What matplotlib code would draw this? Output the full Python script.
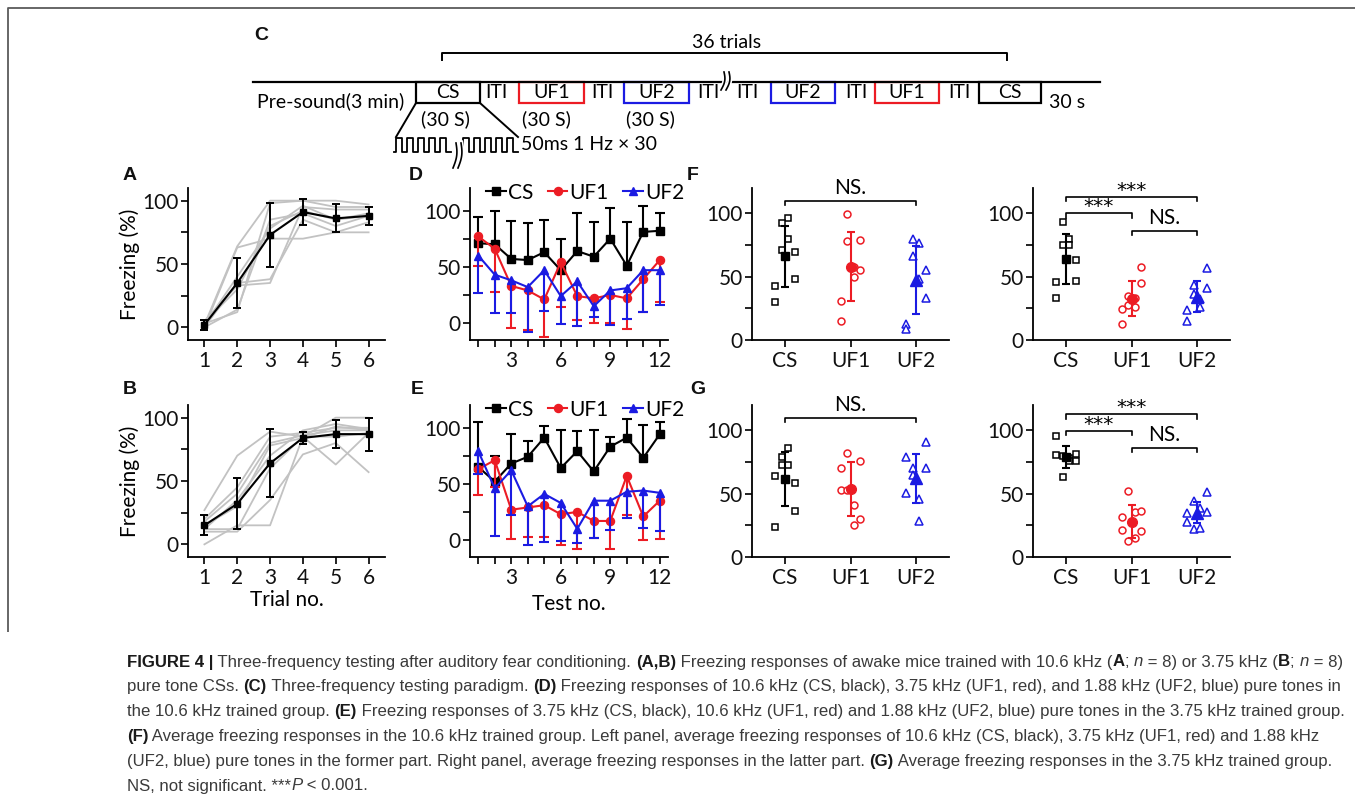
import numpy as np
import matplotlib
matplotlib.use('Agg')
import matplotlib.pyplot as plt
from matplotlib.patches import Rectangle

W, H = 1355, 806
plt.rcParams['font.family'] = ['Lato', 'DejaVu Sans']

# ---------------- data ----------------
trials = [1, 2, 3, 4, 5, 6]
A_mean = [2, 35, 73, 91, 86, 88]
A_err = [4, 20, 25, 10, 11, 7]
A_mice = [[2, 64, 100, 100, 100, 97],
          [0, 63, 70, 70, 75, 75],
          [5, 33, 35, 95, 93, 93],
          [0, 35, 38, 85, 75, 83],
          [3, 12, 98, 100, 95, 95],
          [0, 14, 85, 90, 80, 88],
          [4, 30, 80, 92, 85, 90],
          [2, 40, 78, 96, 85, 88]]
B_mean = [15, 32, 64, 84, 87, 87]
B_err = [8, 20, 27, 5, 11, 13]
B_mice = [[27, 70, 89, 85, 100, 100],
          [20, 45, 85, 88, 92, 92],
          [18, 40, 80, 86, 90, 90],
          [15, 30, 78, 84, 93, 90],
          [12, 12, 60, 85, 63, 88],
          [10, 10, 35, 71, 80, 57],
          [0, 15, 15, 85, 85, 88],
          [12, 35, 70, 90, 95, 91]]

tests = list(range(1, 13))
D_CS = [71, 70, 57, 56, 63, 47, 64, 59, 75, 51, 81, 82]
D_CS_err = [23, 30, 34, 33, 29, 28, 34, 31, 27, 39, 23, 16]
D_UF1 = [77, 66, 33, 29, 21, 54, 24, 22, 25, 22, 39, 56]
D_UF1_err = [26, 38, 37, 35, 33, 40, 21, 22, 25, 27, 29, 37]
D_UF2 = [60, 43, 38, 32, 47, 24, 37, 15, 29, 31, 47, 47]
D_UF2_err = [33, 34, 29, 40, 36, 25, 40, 10, 31, 27, 37, 31]

E_CS = [65, 52, 68, 74, 91, 64, 79, 61, 83, 91, 73, 94]
E_CS_err = [40, 23, 26, 14, 10, 34, 18, 37, 9, 17, 29, 11]
E_UF1 = [63, 71, 27, 29, 31, 23, 25, 17, 17, 57, 21, 35]
E_UF1_err = [23, 24, 26, 26, 28, 27, 33, 15, 25, 35, 21, 34]
E_UF2 = [79, 46, 62, 30, 41, 33, 10, 35, 35, 43, 44, 42]
E_UF2_err = [20, 42, 40, 34, 43, 34, 13, 33, 26, 23, 33, 34]

groups = ['CS', 'UF1', 'UF2']
# F left (former part, 10.6 kHz trained)
FL_CS = [96.6, 92, 79.4, 71, 69.7, 48, 42.3, 29.8]
FL_UF1 = [99.7, 77.8, 78.9, 58, 55.4, 50, 30.8, 14.9]
FL_UF2 = [79.4, 76.5, 66.6, 55.4, 48.3, 33.4, 13, 8.6]
FL_mean = [66, 58, 47.5]
FL_err = [24, 27.5, 27]
# F right (latter part)
FR_CS = [92.9, 79.4, 75, 75, 63.3, 46, 46.7, 33.5]
FR_UF1 = [57.5, 45, 35, 33, 26.4, 24.8, 12.4, 28]
FR_UF2 = [56.7, 43.3, 41.4, 36, 32.7, 26, 24, 15]
FR_mean = [64, 32.7, 34.3]
FR_err = [20, 13.5, 12.5]
# G left
GL_CS = [86.4, 79, 73, 73, 63.9, 58.6, 36.4, 23.3]
GL_UF1 = [82.5, 70.4, 75.7, 52.6, 52.6, 41, 29.8, 25]
GL_UF2 = [90.8, 79, 70, 70, 64.7, 50.3, 45.5, 28.5]
GL_mean = [61.5, 53.7, 62]
GL_err = [21.6, 21, 19.5]
# G right
GR_CS = [95.8, 80.8, 79.5, 81, 78, 75.5, 76, 63.4]
GR_UF1 = [52, 35.5, 36, 31.6, 21, 20.5, 15, 12.6]
GR_UF2 = [51.3, 44, 39, 35.5, 34.7, 28, 21.8, 23]
GR_mean = [78.7, 28, 35]
GR_err = [8.8, 13, 8.5]

# significance annotations (group i, group j, level, label)
sig_left = [(1, 3, 110, 'NS.')]
sig_right_F = [(1, 3, 113, '***'), (1, 2, 100, '***'), (2, 3, 86.3, 'NS.')]
sig_right_G = [(1, 3, 112.6, '***'), (1, 2, 99.5, '***'), (2, 3, 86.3, 'NS.')]

paradigm_seq = ['CS', 'UF1', 'UF2', 'UF2', 'UF1', 'CS']

# ---------------- layout / style constants ----------------
RED = '#ec1c24'
BLUE = '#1b1be2'
GRAY = '#c2c2c2'
FS = 15

JIT = {
    'FL': [[.05, -.05, .05, -.05, .15, .15, -.15, -.15],
           [-.05, -.05, .15, .05, .15, .05, -.15, -.15],
           [-.05, .05, -.05, .15, .05, .15, -.15, -.15]],
    'FR': [[-.05, .05, -.05, .05, .15, -.15, .15, -.15],
           [.15, .15, -.05, .05, .05, -.15, -.15, -.05],
           [.15, -.05, .15, -.05, .05, .05, -.15, -.15]],
    'GL': [[.05, -.05, -.05, .05, -.15, .15, .15, -.15],
           [-.05, -.15, .15, -.15, -.05, .05, .15, .05],
           [.15, -.15, .15, -.05, -.05, -.15, .05, .05]],
    'GR': [[-.15, -.15, -.05, .15, .05, .05, .15, -.05],
           [-.05, .05, .15, -.15, -.15, .15, .05, -.05],
           [.15, -.05, .05, .15, -.15, -.15, -.05, .05]],
}

fig = plt.figure(figsize=(W / 100, H / 100), dpi=100)
bg = fig.add_axes([0, 0, 1, 1])
bg.set_xlim(0, W)
bg.set_ylim(H, 0)
bg.axis('off')


def px_axes(l, t, r, b):
    return fig.add_axes([l / W, 1 - b / H, (r - l) / W, (b - t) / H])


def style(ax):
    for s in ['top', 'right']:
        ax.spines[s].set_visible(False)
    for s in ['left', 'bottom']:
        ax.spines[s].set_linewidth(1.3)
    ax.tick_params(which='both', direction='out', width=1.3, length=5,
                   labelsize=FS, colors='#111111')
    ax.tick_params(axis='y', pad=1.5)
    ax.tick_params(axis='x', pad=3)
    ax.set_facecolor('none')


# ---------------- frame ----------------
bg.plot([8, 8, W], [632, 8, 8], color='#5a5a5a', lw=1.3, solid_capstyle='butt')

# ---------------- panel labels ----------------
for lab, (x, y) in {'A': (130, 175), 'B': (130, 390), 'C': (261, 35), 'D': (416, 176),
                    'E': (417, 390), 'F': (693, 175), 'G': (698, 390)}.items():
    bg.text(x, y, lab, fontsize=14, fontweight='bold', family='Liberation Sans',
            ha='center', va='center', color='#111111')

# ---------------- panel C (paradigm schematic) ----------------
tl_y, box_b = 82, 103
box_x = [(416, 480), (519, 584), (624, 689), (771, 835), (875, 939), (979, 1041)]
box_col = {'CS': 'k', 'UF1': RED, 'UF2': BLUE}
for (x0, x1), name in zip(box_x, paradigm_seq):
    bg.add_patch(Rectangle((x0, tl_y), x1 - x0, box_b - tl_y, fill=False,
                           edgecolor=box_col[name], lw=1.6))
    bg.text((x0 + x1) / 2, 93, name, fontsize=14, ha='center', va='center')
bg.plot([253, 1100], [tl_y, tl_y], color='k', lw=1.6)
for x in [496, 602, 708, 747, 856, 959]:
    bg.text(x, 93, 'ITI', fontsize=14, ha='center', va='center')
bg.text(257, 101, 'Pre-sound(3 min)', fontsize=14, ha='left', va='center')
bg.text(1049, 102, '30 s', fontsize=14, ha='left', va='center')
for x in [445, 546, 650]:
    bg.text(x, 119, '(30 S)', fontsize=14, ha='center', va='center')
# 36 trials bracket
bg.plot([442, 442, 1007, 1007], [60, 53, 53, 60], color='k', lw=1.4)
bg.text(727, 42, '36 trials', fontsize=14, ha='center', va='center')
# zoom lines from the CS box
bg.plot([416, 396], [box_b, 137], color='k', lw=1.4)
bg.plot([480, 518], [box_b, 137], color='k', lw=1.4)


def square_wave(x0, x1, n, lo, hi):
    p = (x1 - x0) / n
    xs, ys = [x0 - 2], [lo]
    for k in range(n):
        a = x0 + k * p
        xs += [a, a, a + p * 0.5, a + p * 0.5]
        ys += [lo, hi, hi, lo]
    xs.append(x1)
    ys.append(lo)
    return xs, ys


for (a, b) in [(396, 451), (463, 518)]:
    xs, ys = square_wave(a, b, 5, 152, 138)
    bg.plot(xs, ys, color='k', lw=1.3)
bg.text(521, 145, '50ms 1 Hz \u00d7 30', fontsize=14, ha='left', va='center')


def break_mark(xc, y0, y1):
    t = np.linspace(0, 1, 30)
    for col, lw in (('white', 3.5), ('k', 1.2)):
        for dx in (-2.5, 2.5):
            xx = xc + dx + 2.2 * np.sin(np.pi * t) - 3 * (t - 0.5)
            yy = y0 + (y1 - y0) * t
            bg.plot(xx, yy, color=col, lw=lw)


break_mark(725, 72, 90)
break_mark(457, 143, 168)

# ---------------- panels A, B ----------------
COLS = [(188, 385), (470, 668), (752, 949), (1033, 1230)]
ROWS = [(188, 340), (405, 557)]


def trial_panel(ax, mice, mean, err, xlabel=None):
    style(ax)
    for m in mice:
        ax.plot(trials, m, color=GRAY, lw=1.3, zorder=1)
    ax.errorbar(trials, mean, yerr=err, color='k', marker='s', ms=5, lw=1.5,
                elinewidth=1.4, capsize=2.9, capthick=1.4, zorder=3)
    ax.set_xlim(0.5, 6.5)
    ax.set_ylim(-10, 110)
    ax.set_xticks(trials)
    ax.set_yticks([0, 50, 100])
    ax.set_yticks([25, 75], minor=True)
    ax.set_ylabel('Freezing (%)', fontsize=FS, labelpad=2)
    if xlabel:
        ax.set_xlabel(xlabel, fontsize=FS, labelpad=1)


axA = px_axes(COLS[0][0], ROWS[0][0], COLS[0][1], ROWS[0][1])
trial_panel(axA, A_mice, A_mean, A_err)
axB = px_axes(COLS[0][0], ROWS[1][0], COLS[0][1], ROWS[1][1])
trial_panel(axB, B_mice, B_mean, B_err, 'Trial no.')

# ---------------- panels D, E ----------------


def one_sided(ax, x, y, err, sign, color, z):
    y = np.asarray(y, float)
    end = y + sign * np.asarray(err, float)
    ax.vlines(x, y, end, color=color, lw=1.5, zorder=z)
    ax.plot(x, end, ls='none', marker='_', ms=7.7, mew=1.5, color=color, zorder=z)


def test_panel(ax, cs, cs_e, u1, u1_e, u2, u2_e, xlabel=None):
    style(ax)
    one_sided(ax, tests, cs, cs_e, +1, 'k', 2)
    ax.plot(tests, cs, color='k', marker='s', ms=5.3, lw=1.5, label='CS', zorder=2)
    one_sided(ax, tests, u1, u1_e, -1, RED, 3)
    ax.plot(tests, u1, color=RED, marker='o', ms=5.8, lw=1.5, label='UF1', zorder=3)
    one_sided(ax, tests, u2, u2_e, -1, BLUE, 4)
    ax.plot(tests, u2, color=BLUE, marker='^', ms=6.3, lw=1.5, label='UF2', zorder=4)
    ax.set_xlim(0.5, 12.5)
    ax.set_ylim(-15, 120)
    ax.set_xticks([3, 6, 9, 12])
    ax.set_xticks(tests, minor=True)
    ax.set_yticks([0, 50, 100])
    ax.set_yticks([25, 75], minor=True)
    ax.legend(ncol=3, loc='upper left', bbox_to_anchor=(0.08, 1.035), frameon=False,
              fontsize=FS, handlelength=0.95, handletextpad=0.1, columnspacing=0.7,
              borderaxespad=0, borderpad=0, numpoints=1)
    if xlabel:
        ax.set_xlabel(xlabel, fontsize=FS, labelpad=4)


axD = px_axes(COLS[1][0], ROWS[0][0], COLS[1][1], ROWS[0][1])
test_panel(axD, D_CS, D_CS_err, D_UF1, D_UF1_err, D_UF2, D_UF2_err)
axE = px_axes(COLS[1][0], ROWS[1][0], COLS[1][1], ROWS[1][1])
test_panel(axE, E_CS, E_CS_err, E_UF1, E_UF1_err, E_UF2, E_UF2_err, 'Test no.')

# ---------------- panels F, G ----------------
MK = [('s', 'k', 4.6, 6.2), ('o', RED, 5.0, 7.0), ('^', BLUE, 6.0, 8.0)]


def dot_panel(ax, data, means, errs, jit, sigs):
    style(ax)
    for i, (pts, m, e, (mk, c, ms_o, ms_f)) in enumerate(zip(data, means, errs, MK)):
        x = i + 1 + np.asarray(jit[i])
        ax.plot(x, pts, ls='none', marker=mk, ms=ms_o, mfc='white', mec=c, mew=1.1, zorder=2)
        ax.errorbar([i + 1], [m], yerr=[e], color=c, marker=mk, ms=ms_f, elinewidth=1.5,
                    capsize=2.7, capthick=1.5, zorder=3)
    ax.set_xlim(0.5, 3.5)
    ax.set_ylim(0, 120)
    ax.set_xticks([1, 2, 3])
    ax.set_xticklabels(groups)
    ax.set_yticks([0, 50, 100])
    ax.set_yticks([25, 75], minor=True)
    for (g1, g2, lvl, txt) in sigs:
        ax.plot([g1, g1, g2, g2], [lvl - 3.5, lvl, lvl, lvl - 3.5], color='k', lw=1.2,
                clip_on=False)
        if txt == 'NS.':
            ax.text((g1 + g2) / 2, lvl + 5, txt, fontsize=FS, ha='center', va='baseline',
                    clip_on=False)
        else:
            ax.text((g1 + g2) / 2, lvl + 0.8, txt, fontsize=14.5, ha='center', va='baseline',
                    family='DejaVu Sans', clip_on=False)


axFL = px_axes(COLS[2][0], ROWS[0][0], COLS[2][1], ROWS[0][1])
dot_panel(axFL, [FL_CS, FL_UF1, FL_UF2], FL_mean, FL_err, JIT['FL'], sig_left)
axFR = px_axes(COLS[3][0], ROWS[0][0], COLS[3][1], ROWS[0][1])
dot_panel(axFR, [FR_CS, FR_UF1, FR_UF2], FR_mean, FR_err, JIT['FR'], sig_right_F)
axGL = px_axes(COLS[2][0], ROWS[1][0], COLS[2][1], ROWS[1][1])
dot_panel(axGL, [GL_CS, GL_UF1, GL_UF2], GL_mean, GL_err, JIT['GL'], sig_left)
axGR = px_axes(COLS[3][0], ROWS[1][0], COLS[3][1], ROWS[1][1])
dot_panel(axGR, [GR_CS, GR_UF1, GR_UF2], GR_mean, GR_err, JIT['GR'], sig_right_G)

# ---------------- caption ----------------
cap_lines = [
    [("FIGURE 4 |", 'b'), (" Three-frequency testing after auditory fear conditioning. ", 'n'),
     ("(A,B)", 'b'), (" Freezing responses of awake mice trained with 10.6 kHz (", 'n'), ("A", 'b'),
     ("; ", 'n'), ("n", 'i'), (" = 8) or 3.75 kHz (", 'n'), ("B", 'b'), ("; ", 'n'), ("n", 'i'),
     (" = 8)", 'n')],
    [("pure tone CSs. ", 'n'), ("(C)", 'b'), (" Three-frequency testing paradigm. ", 'n'), ("(D)", 'b'),
     (" Freezing responses of 10.6 kHz (CS, black), 3.75 kHz (UF1, red), and 1.88 kHz (UF2, blue) pure tones in", 'n')],
    [("the 10.6 kHz trained group. ", 'n'), ("(E)", 'b'),
     (" Freezing responses of 3.75 kHz (CS, black), 10.6 kHz (UF1, red) and 1.88 kHz (UF2, blue) pure tones in the 3.75 kHz trained group.", 'n')],
    [("(F)", 'b'),
     (" Average freezing responses in the 10.6 kHz trained group. Left panel, average freezing responses of 10.6 kHz (CS, black), 3.75 kHz (UF1, red) and 1.88 kHz", 'n')],
    [("(UF2, blue) pure tones in the former part. Right panel, average freezing responses in the latter part. ", 'n'),
     ("(G)", 'b'), (" Average freezing responses in the 3.75 kHz trained group.", 'n')],
    [("NS, not significant. ***", 'n'), ("P", 'i'), (" < 0.001.", 'n')],
]

renderer = fig.canvas.get_renderer()


def seg_kw(st, size):
    kw = dict(fontsize=size, family='Liberation Sans', color='#3a3a3a')
    if st == 'b':
        kw.update(fontweight='bold', color='#1a1a1a')
    elif st == 'i':
        kw.update(fontstyle='italic')
    return kw


def seg_width(s, kw):
    t1 = bg.text(0, 0, '|' + s + '|', **kw)
    w1 = t1.get_window_extent(renderer).width
    t1.remove()
    t2 = bg.text(0, 0, '||', **kw)
    w2 = t2.get_window_extent(renderer).width
    t2.remove()
    return w1 - w2


base = 10.0
w_line1 = sum(seg_width(s, seg_kw(st, base)) for s, st in cap_lines[0])
cap_size = base * (1342 - 127) / w_line1

for li, line in enumerate(cap_lines):
    x = 127
    y = 662 + 24.8 * li
    for s, st in line:
        kw = seg_kw(st, cap_size)
        bg.text(x, y, s, ha='left', va='center', **kw)
        x += seg_width(s, kw)

fig.savefig('out.png', dpi=100)
